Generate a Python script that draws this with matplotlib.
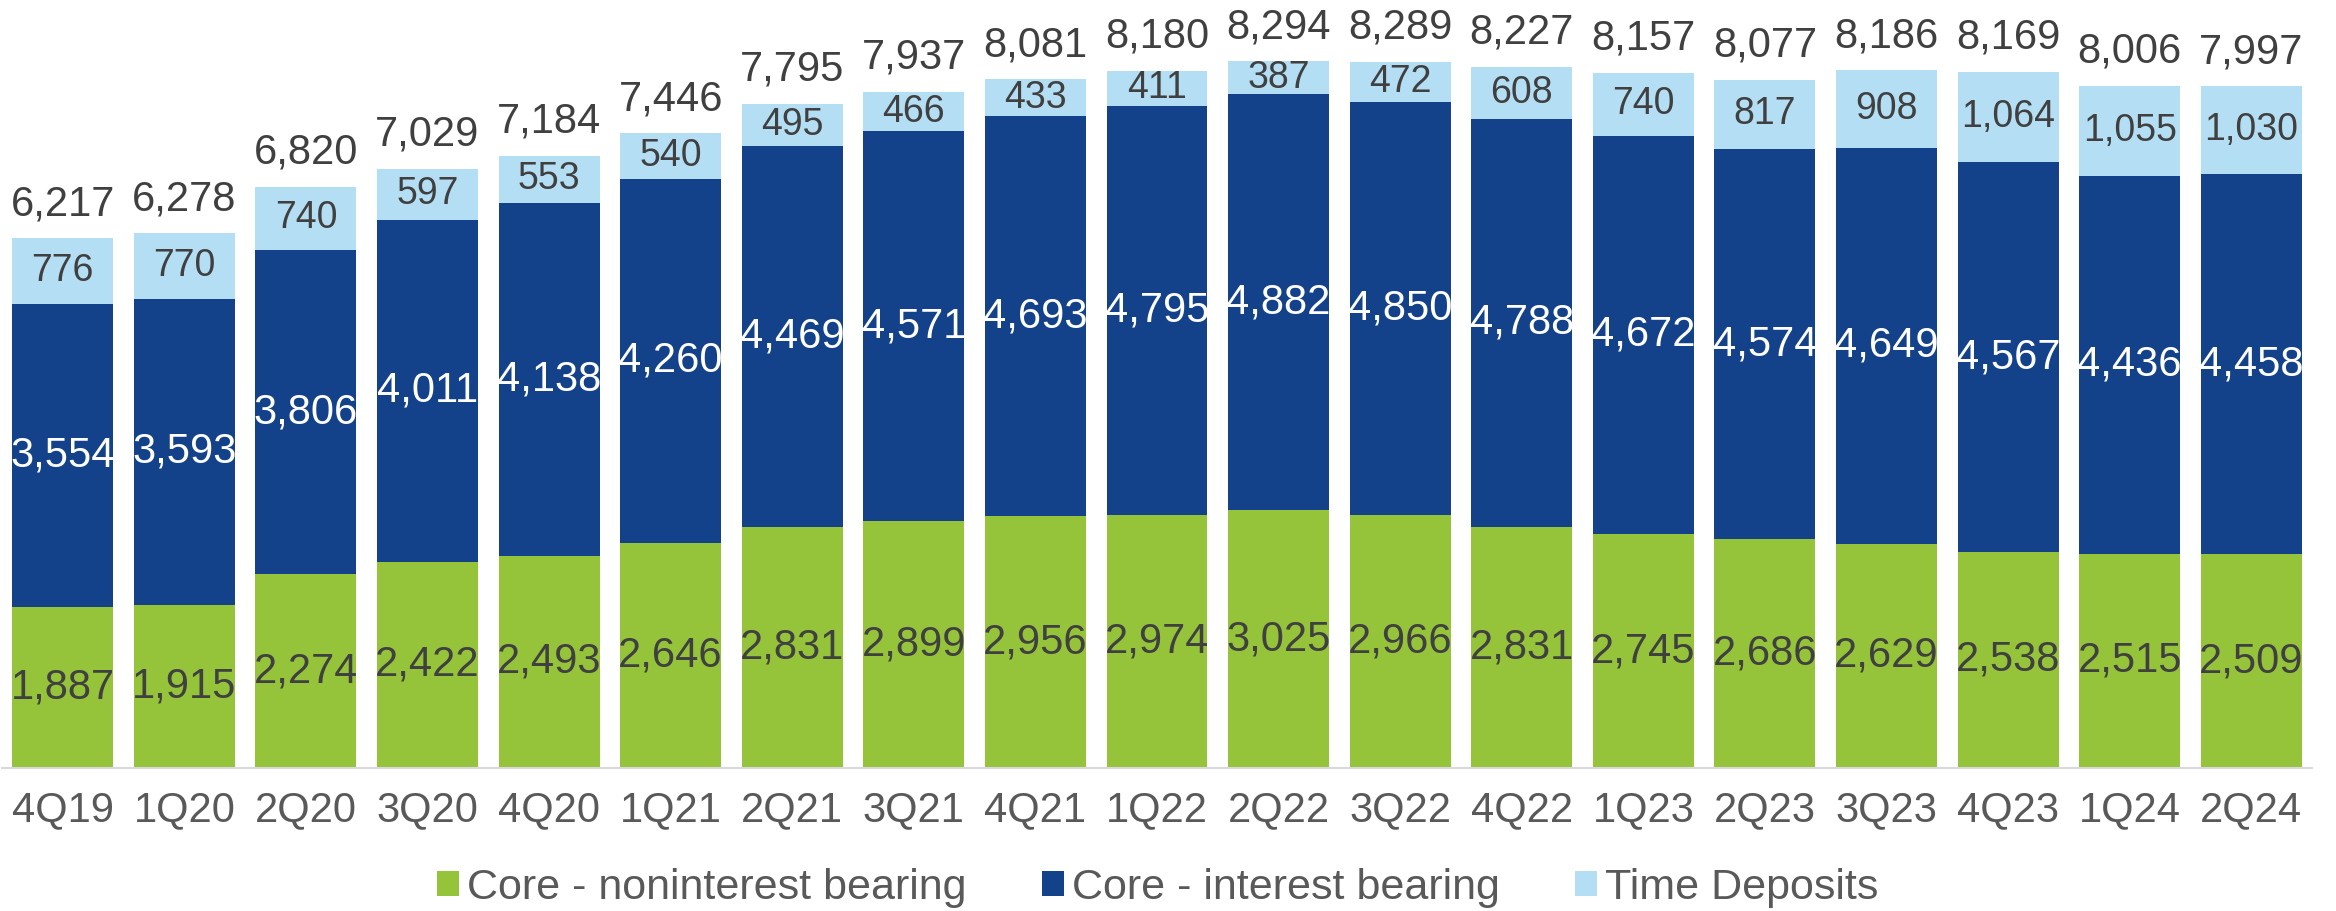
import matplotlib
matplotlib.use("Agg")
import matplotlib.pyplot as plt
import numpy as np

plt.rcParams['font.family'] = ['Liberation Sans', 'DejaVu Sans']

# 분기 라벨
quarters = ["4Q19", "1Q20", "2Q20", "3Q20", "4Q20", "1Q21", "2Q21", "3Q21", "4Q21", "1Q22",
            "2Q22", "3Q22", "4Q22", "1Q23", "2Q23", "3Q23", "4Q23", "1Q24", "2Q24"]

# 예금 구성 (단위: 백만)
core_nonint = [1887, 1915, 2274, 2422, 2493, 2646, 2831, 2899, 2956, 2974,
               3025, 2966, 2831, 2745, 2686, 2629, 2538, 2515, 2509]
core_int = [3554, 3593, 3806, 4011, 4138, 4260, 4469, 4571, 4693, 4795,
            4882, 4850, 4788, 4672, 4574, 4649, 4567, 4436, 4458]
time_dep = [776, 770, 740, 597, 553, 540, 495, 466, 433, 411,
            387, 472, 608, 740, 817, 908, 1064, 1055, 1030]
totals = [6217, 6278, 6820, 7029, 7184, 7446, 7795, 7937, 8081, 8180,
          8294, 8289, 8227, 8157, 8077, 8186, 8169, 8006, 7997]
series_names = ["Core - noninterest bearing", "Core - interest bearing", "Time Deposits"]

GREEN = "#95C43A"
NAVY = "#13418A"
LIGHT = "#B4DEF3"
DARK_TXT = "#404040"
GRAY_TXT = "#595959"

W, H = 2336, 911
fig = plt.figure(figsize=(W / 100, H / 100), dpi=100)
ax = fig.add_axes([2 / W, 1 - 768 / H, 2310 / W, 767 / H])

x = np.arange(len(quarters))
w = 0.83
g = np.array(core_nonint)
b = np.array(core_int)
t = np.array(time_dep)

bars_g = ax.bar(x, g, w, color=GREEN, label=series_names[0])
bars_b = ax.bar(x, b, w, bottom=g, color=NAVY, label=series_names[1])
bars_t = ax.bar(x, t, w, bottom=g + b, color=LIGHT, label=series_names[2])

# 세그먼트 라벨 (막대 폭에 맞게 잘림)
for i in range(len(x)):
    tg = ax.text(x[i], g[i] / 2, f"{g[i]:,}", ha="center", va="center", fontsize=30, color=DARK_TXT)
    tg.set_clip_on(True)
    tg.set_clip_path(bars_g[i])
    tb = ax.text(x[i], g[i] + b[i] / 2, f"{b[i]:,}", ha="center", va="center", fontsize=30, color="white")
    tb.set_clip_on(True)
    tb.set_clip_path(bars_b[i])
    ax.text(x[i], g[i] + b[i] + t[i] / 2, f"{t[i]:,}", ha="center", va="center", fontsize=27, color=DARK_TXT)
    ax.annotate(f"{totals[i]:,}", (x[i], g[i] + b[i] + t[i]), xytext=(0, 10), textcoords="offset points",
                ha="center", va="bottom", fontsize=30, color=DARK_TXT)

ax.set_xlim(-0.5, len(x) - 0.5)
ax.set_ylim(0, 9000)
ax.set_yticks([])
ax.set_xticks(x)
ax.set_xticklabels(quarters, fontsize=30, color=GRAY_TXT)
ax.tick_params(axis="x", length=0, pad=16)
for s in ["top", "right", "left"]:
    ax.spines[s].set_visible(False)
ax.spines["bottom"].set_color("#D9D9D9")
ax.spines["bottom"].set_linewidth(1.5)

# 범례: 항목별로 따로 배치
legend_x = [437, 1042, 1575]
for bars, name, lx in zip([bars_g, bars_b, bars_t], series_names, legend_x):
    leg = fig.legend([bars], [name], loc="center left", bbox_to_anchor=(lx / W, 1 - 888 / H),
                     frameon=False, fontsize=31, handlelength=0.5, handleheight=0.5,
                     handletextpad=0.2, borderpad=0, borderaxespad=0)
    for txt in leg.get_texts():
        txt.set_color(GRAY_TXT)

fig.savefig("out.png", dpi=100)
